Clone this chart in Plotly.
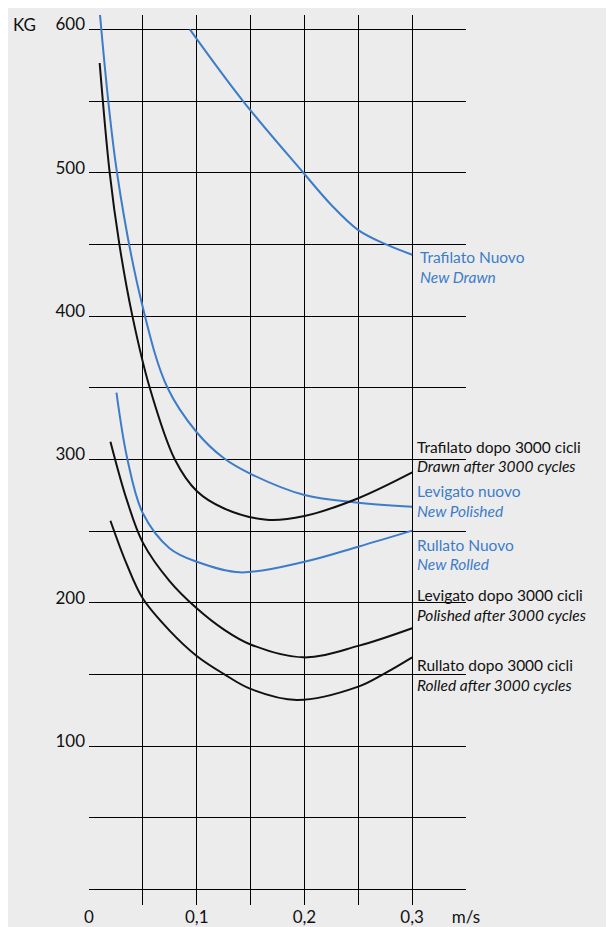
import plotly.graph_objects as go

# ---- data ----
trafilato_nuovo_x = [0.0936, 0.143, 0.199, 0.225, 0.25, 0.2764, 0.3]
trafilato_nuovo_y = [600, 550, 500, 477.5, 460, 449.8, 442.8]

levigato_nuovo_x = [0.0099, 0.026, 0.05, 0.0729, 0.1, 0.125, 0.15, 0.2, 0.25, 0.3]
levigato_nuovo_y = [613, 500, 406, 350, 319, 301, 290, 275.2, 269.9, 267.1]

trafilato_3000_x = [0.0099, 0.0192, 0.0282, 0.0403, 0.0564, 0.0797, 0.1, 0.125, 0.165, 0.2, 0.25, 0.3]
trafilato_3000_y = [576.5, 500, 450, 400, 350, 300, 278, 266, 258, 260.6, 273, 291]

rullato_nuovo_x = [0.0255, 0.0357, 0.05, 0.075, 0.1, 0.14, 0.2, 0.25, 0.3]
rullato_nuovo_y = [346.6, 300, 262.5, 238, 228.7, 221.3, 228.7, 239.2, 250.4]

levigato_3000_x = [0.0199, 0.035, 0.05, 0.075, 0.1, 0.125, 0.15, 0.199, 0.25, 0.3]
levigato_3000_y = [312.4, 272, 242, 215, 196.2, 181.5, 171, 162, 170, 182.3]

rullato_3000_x = [0.0199, 0.035, 0.05, 0.075, 0.1, 0.125, 0.15, 0.193, 0.25, 0.275, 0.3]
rullato_3000_y = [257.3, 227, 203, 180.5, 163, 150.5, 140, 132.3, 141.6, 151, 162]

x_tickvals = [0, 0.05, 0.1, 0.15, 0.2, 0.25, 0.3, 0.35]
x_ticktext = ["0", "", "0,1", "", "0,2", "", "0,3", "m/s"]
y_tickvals = [0, 50, 100, 150, 200, 250, 300, 350, 400, 450, 500, 550, 600]
y_ticktext = ["", "", "100", "", "200", "", "300", "", "400", "", "500", "", "600"]

labels = [
    ("Trafilato Nuovo", 441.2, "blue", False, 6),
    ("New Drawn", 427.2, "blue", True, 6),
    ("Trafilato dopo 3000 cicli", 308.7, "black", False, 3),
    ("Drawn after 3000 cycles", 295.5, "black", True, 3),
    ("Levigato nuovo", 278.0, "blue", False, 3),
    ("New Polished", 264.3, "blue", True, 3),
    ("Rullato Nuovo", 240.4, "blue", False, 3),
    ("New Rolled", 227.0, "blue", True, 3),
    ("Levigato dopo 3000 cicli", 205.6, "black", False, 3),
    ("Polished after 3000 cycles", 191.6, "black", True, 3),
    ("Rullato dopo 3000 cicli", 156.7, "black", False, 3),
    ("Rolled after 3000 cycles", 142.8, "black", True, 3),
]

BLUE = "#3d7cc9"
BLACK = "#111111"
FONT = "Lato"

fig = go.Figure()
series = [
    (trafilato_nuovo_x, trafilato_nuovo_y, BLUE),
    (levigato_nuovo_x, levigato_nuovo_y, BLUE),
    (rullato_nuovo_x, rullato_nuovo_y, BLUE),
    (trafilato_3000_x, trafilato_3000_y, BLACK),
    (levigato_3000_x, levigato_3000_y, BLACK),
    (rullato_3000_x, rullato_3000_y, BLACK),
]
for xs, ys, col in series:
    fig.add_trace(go.Scatter(x=xs, y=ys, mode="lines",
                             line=dict(color=col, width=2, shape="spline", smoothing=1.0),
                             showlegend=False, hoverinfo="skip"))

for text, yv, col, ital, xs in labels:
    t = f"<i>{text}</i>" if ital else text
    fig.add_annotation(x=0.3, y=yv, xref="x", yref="y", text=t, showarrow=False,
                       xanchor="left", yanchor="middle", xshift=xs,
                       font=dict(family=FONT, size=15.5, color=BLUE if col == "blue" else BLACK))

fig.add_annotation(x=0, y=0.9893, xref="paper", yref="paper", text="KG", showarrow=False,
                   xanchor="right", yanchor="middle", xshift=-51,
                   font=dict(family=FONT, size=17, color=BLACK))

fig.update_xaxes(range=[0, 0.35], tickvals=x_tickvals, ticktext=x_ticktext,
                 showgrid=True, gridcolor="black", gridwidth=1, zeroline=False,
                 showline=False, ticks="", automargin=False,
                 tickfont=dict(family=FONT, size=17, color=BLACK))
fig.update_yaxes(range=[-10.7, 610], tickvals=y_tickvals, ticktext=y_ticktext,
                 showgrid=True, gridcolor="black", gridwidth=1, zeroline=False,
                 showline=False, ticks="", automargin=False,
                 ticklabelshift=-5, ticklabelstandoff=3,
                 tickfont=dict(family=FONT, size=17, color=BLACK))

fig.update_layout(width=606, height=919,
                  margin=dict(l=81, r=148, t=7, b=22),
                  paper_bgcolor="#ececec", plot_bgcolor="#ececec",
                  font=dict(family=FONT))

fig.write_html("out.html")
